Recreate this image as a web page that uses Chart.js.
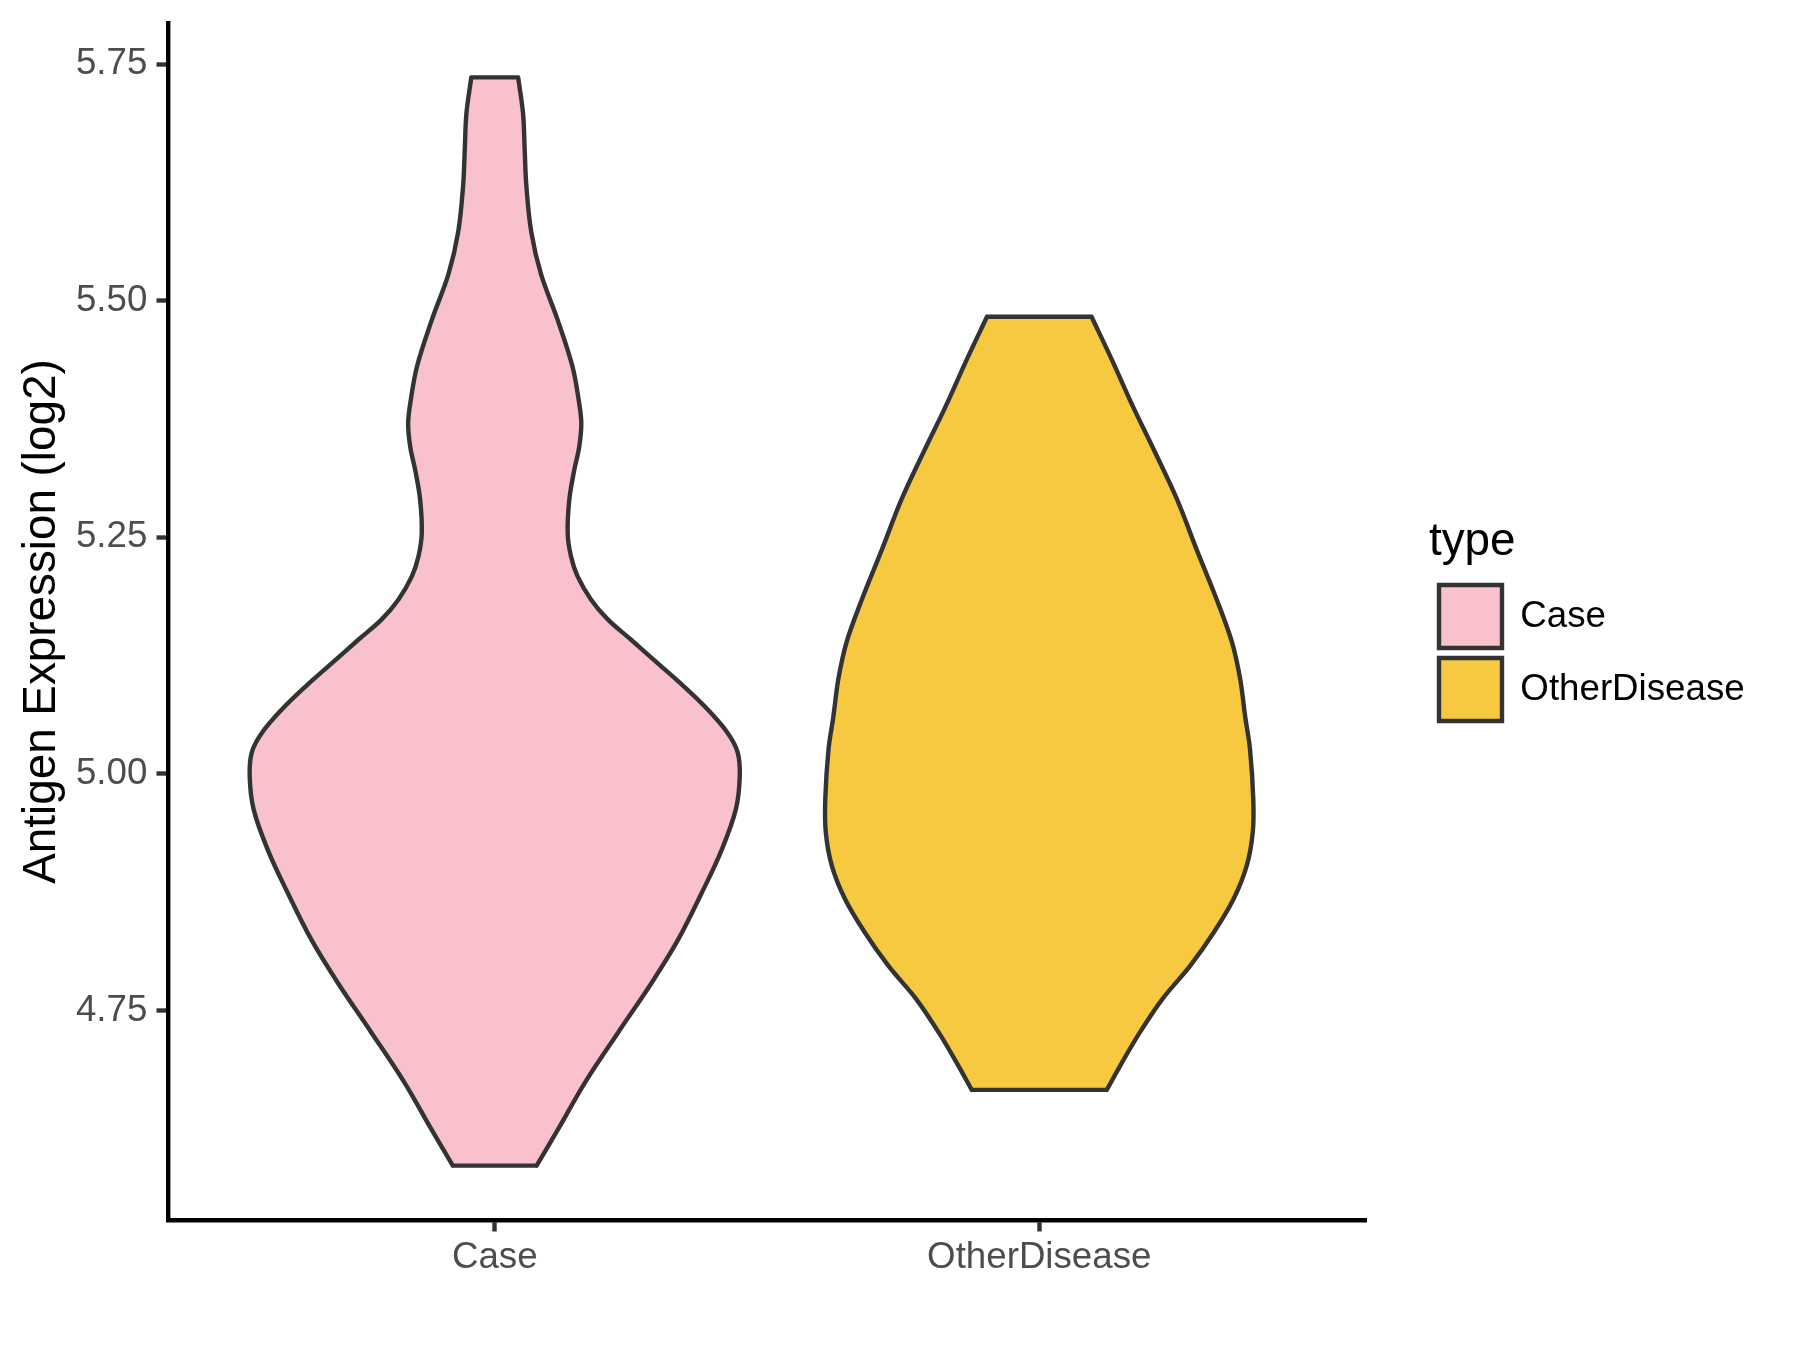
<!DOCTYPE html>
<html>
<head>
<meta charset="utf-8">
<title>Antigen Expression (log2)</title>
<script src="https://cdn.jsdelivr.net/npm/chart.js@4.4.1/dist/chart.umd.min.js"></script>
<style>
  html, body { margin: 0; padding: 0; background: #ffffff; }
  #violinChart { display: block; }
</style>
</head>
<body>
<canvas id="violinChart" width="1800" height="1350"></canvas>
<script>
/* Antigen expression violin plot */

var CATEGORIES = ['Case', 'OtherDisease'];
var CATEGORY_POS = [1, 2];
var FILL_COLORS = ['#F8C1CC', '#F6C940'];

// violin outlines, top to bottom: expression value and half width (x units)
var CASE_Y = [5.736, 5.698, 5.660, 5.622, 5.573, 5.528, 5.479, 5.430, 5.392, 5.370, 5.345,
  5.321, 5.290, 5.254, 5.230, 5.209, 5.184, 5.163, 5.142, 5.117, 5.092, 5.068, 5.043,
  5.023, 4.998, 4.963, 4.920, 4.874, 4.825, 4.779, 4.727, 4.674, 4.625, 4.586];
var CASE_HALF = [0.043, 0.052, 0.055, 0.058, 0.067, 0.085, 0.116, 0.143, 0.155, 0.159, 0.155,
  0.146, 0.137, 0.134, 0.140, 0.152, 0.177, 0.208, 0.250, 0.299, 0.348, 0.391, 0.428,
  0.446, 0.450, 0.443, 0.417, 0.380, 0.337, 0.288, 0.227, 0.166, 0.117, 0.077];

var OTHER_Y = [5.483, 5.438, 5.387, 5.343, 5.290, 5.237, 5.184, 5.139, 5.100, 5.061, 5.026,
  4.973, 4.938, 4.903, 4.868, 4.832, 4.797, 4.762, 4.727, 4.692, 4.666];
var OTHER_HALF = [0.096, 0.133, 0.173, 0.210, 0.253, 0.289, 0.326, 0.354, 0.369, 0.378, 0.387,
  0.393, 0.392, 0.381, 0.357, 0.320, 0.277, 0.226, 0.185, 0.149, 0.124];

var Y_TICKS = [4.75, 5.00, 5.25, 5.50, 5.75];
var Y_TICK_LABELS = ['4.75', '5.00', '5.25', '5.50', '5.75'];
var Y_RANGE = [4.5285, 5.7935];
var X_RANGE = [0.4, 2.6];

var FONT = "'Liberation Sans', Arial, Helvetica, sans-serif";
var LINE_W = 4.4;
var OUTLINE = '#333333';
var LEGEND_GAP = 63;

var GAP = { x: null, y: null };

// closed polygon, used only for the fill
function violinPolygon(center, ys, halves) {
  var pts = [];
  var i;
  for (i = 0; i < ys.length; i += 1) {
    pts.push({ x: center - halves[i], y: ys[i] });
  }
  for (i = ys.length - 1; i >= 0; i -= 1) {
    pts.push({ x: center + halves[i], y: ys[i] });
  }
  return pts;
}

// outline as separate pieces: both sides, then the flat top and bottom
function violinEdges(center, ys, halves) {
  var pts = [];
  var last = ys.length - 1;
  var i;
  for (i = 0; i <= last; i += 1) {
    pts.push({ x: center - halves[i], y: ys[i] });
  }
  pts.push(GAP);
  for (i = 0; i <= last; i += 1) {
    pts.push({ x: center + halves[i], y: ys[i] });
  }
  pts.push(GAP);
  pts.push({ x: center - halves[0], y: ys[0] });
  pts.push({ x: center + halves[0], y: ys[0] });
  pts.push(GAP);
  pts.push({ x: center - halves[last], y: ys[last] });
  pts.push({ x: center + halves[last], y: ys[last] });
  return pts;
}

function outlineDataset(label, center, ys, halves, color) {
  return {
    label: label,
    data: violinEdges(center, ys, halves),
    backgroundColor: color,
    borderColor: OUTLINE,
    borderWidth: LINE_W,
    borderCapStyle: 'round',
    fill: false,
    spanGaps: false,
    pointRadius: 0,
    pointHoverRadius: 0,
    tension: 0.35
  };
}

function fillDataset(label, center, ys, halves, color) {
  return {
    label: label,
    data: violinPolygon(center, ys, halves),
    backgroundColor: color,
    borderWidth: 0,
    fill: 'shape',
    tension: 0,
    pointRadius: 0,
    pointHoverRadius: 0
  };
}

function tickValues(values) {
  return function (scale) {
    scale.ticks = values.map(function (v) { return { value: v }; });
  };
}

// push the legend away from the panel, like the gap ggplot leaves
var legendGapPlugin = {
  id: 'legendGap',
  afterLayout: function (chart) {
    if (chart.legend) {
      chart.legend.left += LEGEND_GAP;
      chart.legend.right += LEGEND_GAP;
    }
  }
};

var axisGrid = {
  drawOnChartArea: false,
  drawTicks: true,
  tickLength: 11.5,
  tickColor: OUTLINE,
  tickWidth: LINE_W
};
var axisBorder = { display: true, color: '#000000', width: LINE_W };

Chart.defaults.font.family = FONT;

new Chart(document.getElementById('violinChart').getContext('2d'), {
  type: 'line',
  data: {
    datasets: [
      outlineDataset(CATEGORIES[0], CATEGORY_POS[0], CASE_Y, CASE_HALF, FILL_COLORS[0]),
      outlineDataset(CATEGORIES[1], CATEGORY_POS[1], OTHER_Y, OTHER_HALF, FILL_COLORS[1]),
      fillDataset(CATEGORIES[0], CATEGORY_POS[0], CASE_Y, CASE_HALF, FILL_COLORS[0]),
      fillDataset(CATEGORIES[1], CATEGORY_POS[1], OTHER_Y, OTHER_HALF, FILL_COLORS[1])
    ]
  },
  plugins: [legendGapPlugin],
  options: {
    responsive: false,
    animation: false,
    devicePixelRatio: 1,
    indexAxis: 'y',
    events: [],
    layout: { autoPadding: false, padding: { left: 0, right: 114, top: 23, bottom: 0 } },
    plugins: {
      tooltip: { enabled: false },
      legend: {
        position: 'right',
        align: 'center',
        fullSize: false,
        maxWidth: 320,
        title: {
          display: true,
          text: 'type',
          position: 'start',
          color: '#000000',
          font: { size: 45.8 },
          padding: { top: 7, bottom: 1 }
        },
        labels: {
          boxWidth: 63,
          boxHeight: 63,
          padding: 10,
          color: '#000000',
          font: { size: 36.7 },
          filter: function (item, data) {
            return data.datasets[item.datasetIndex].fill === false;
          }
        }
      }
    },
    scales: {
      x: {
        type: 'linear',
        min: X_RANGE[0],
        max: X_RANGE[1],
        afterBuildTicks: tickValues(CATEGORY_POS),
        afterFit: function (scale) {
          scale.height = 130;
          scale.paddingLeft = 0;
          scale.paddingRight = 0;
        },
        grid: axisGrid,
        border: axisBorder,
        ticks: {
          color: '#4D4D4D',
          font: { size: 36.7 },
          padding: 4,
          maxRotation: 0,
          autoSkip: false,
          callback: function (value, index) { return CATEGORIES[index]; }
        }
      },
      y: {
        type: 'linear',
        position: 'left',
        min: Y_RANGE[0],
        max: Y_RANGE[1],
        afterBuildTicks: tickValues(Y_TICKS),
        afterFit: function (scale) {
          scale.width = 168;
          scale.paddingTop = 0;
          scale.paddingBottom = 0;
        },
        grid: axisGrid,
        border: axisBorder,
        ticks: {
          color: '#4D4D4D',
          font: { size: 36.7 },
          padding: 9.2,
          autoSkip: false,
          callback: function (value, index) { return Y_TICK_LABELS[index]; }
        },
        title: {
          display: true,
          text: 'Antigen Expression (log2)',
          color: '#000000',
          font: { size: 45.8 },
          padding: { top: 14.5, bottom: 0 }
        }
      }
    }
  }
});
</script>
</body>
</html>
